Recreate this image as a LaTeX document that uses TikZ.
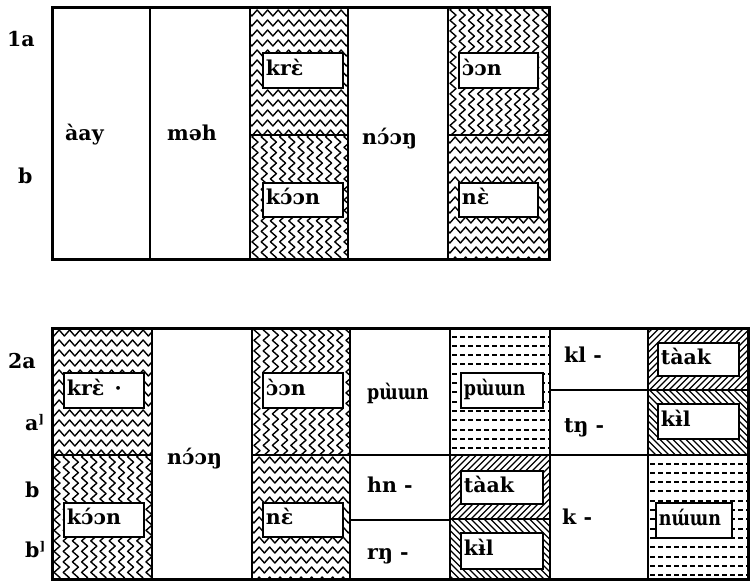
\documentclass[tikz,border=0pt]{standalone}
\usepackage{fontspec}
\setmainfont{DejaVu Serif}
\usetikzlibrary{decorations.pathmorphing}

\newcommand\wordfont{\fontsize{20.5}{24}\selectfont\bfseries}
\newcommand\tonemark{\raisebox{7pt}{\fontsize{12}{12}\selectfont ]}}
\newcommand\narrow[1]{{\addfontfeature{FakeStretch=0.85}#1}}

% fill a cell with rows of horizontal zigzags
\newcommand\hwaves[4]{%
  \begin{scope}
    \clip (#1,#2) rectangle (#3,#4);
    \foreach \k in {0,...,14}
      \draw[wave] ({#1-6},{#2+5+10*\k}) -- ({#3+6},{#2+5+10*\k});
  \end{scope}}
% fill a cell with columns of vertical zigzags
\newcommand\vzigs[4]{%
  \begin{scope}
    \clip (#1,#2) rectangle (#3,#4);
    \foreach \k in {0,...,13}
      \draw[wave] ({#1+5+9.2*\k},{#2-6}) -- ({#1+5+9.2*\k},{#4+6});
  \end{scope}}
% fill a cell with rows of short dashes
\newcommand\dashrows[4]{%
  \begin{scope}
    \clip (#1,#2) rectangle (#3,#4);
    \foreach \k in {0,...,14}
      \draw[dots] ({#1+2},{#2+8.5+9.3*\k}) -- ({#3},{#2+8.5+9.3*\k});
  \end{scope}}
% fill a cell with "/" hatching
\newcommand\hatchne[4]{%
  \begin{scope}
    \clip (#1,#2) rectangle (#3,#4);
    \foreach \k in {0,...,32}
      \draw[hatch] ({#1-70+6.5*\k},{#4}) -- ({#1-70+6.5*\k+#4-#2},{#2});
  \end{scope}}
% fill a cell with "\" hatching
\newcommand\hatchnw[4]{%
  \begin{scope}
    \clip (#1,#2) rectangle (#3,#4);
    \foreach \k in {0,...,32}
      \draw[hatch] ({#1-70+6.5*\k},{#2}) -- ({#1-70+6.5*\k+#4-#2},{#4});
  \end{scope}}

\tikzset{
  frame/.style={line width=3pt},
  heavy/.style={line width=2.4pt},
  light/.style={line width=1.4pt},
  wave/.style={line width=1.4pt, line join=round,
    decorate, decoration={zigzag, segment length=10.5pt, amplitude=3pt}},
  dots/.style={line width=2pt, dash pattern=on 4.5pt off 3.5pt},
  hatch/.style={line width=1.3pt},
  wbox/.style={draw, fill=white, line width=1.8pt, inner sep=3pt,
    align=left, anchor=north west, font=\wordfont,
    text height=14pt, text depth=4pt},
  word/.style={inner sep=0pt, anchor=base west, font=\wordfont},
}

\begin{document}
\begin{tikzpicture}[x=1pt, y=-1pt]
\useasboundingbox (0,0) rectangle (752,583);

% ---------- table 1 ----------
\hwaves{250}{8}{348}{135}
\vzigs{250}{135}{348}{259}
\vzigs{448}{8}{549}{135}
\hwaves{448}{135}{549}{259}

\draw[frame] (52,8) rectangle (549,259);
\draw[light] (150,8) -- (150,259);
\draw[heavy] (250,8) -- (250,259);
\draw[heavy] (348,8) -- (348,259);
\draw[heavy] (448,8) -- (448,259);
\draw[heavy] (250,135) -- (348,135);
\draw[heavy] (448,135) -- (549,135);

\node[word] (r1a) at (7,47) {1a};
\node[word] (r1b) at (18,183) {b};
\node[word] (w1) at (65,141) {àay};
\node[word] (w2) at (167,141) {məh};
\node[word] (w3) at (362,145) {nɔ́ɔŋ};
\node[wbox, text width=74pt, minimum height=35pt] (b11) at (262,52) {krɛ̀};
\node[wbox, text width=74pt, minimum height=34pt] (b12) at (262,182) {kɔ́ɔn};
\node[wbox, text width=73pt, minimum height=35pt] (b13) at (458,52) {ɔ̀ɔn};
\node[wbox, text width=73pt, minimum height=34pt] (b14) at (458,182) {nɛ̀};

% ---------- table 2 ----------
\hwaves{52}{328}{152}{455}
\vzigs{52}{455}{152}{579}
\vzigs{252}{328}{350}{455}
\hwaves{252}{455}{350}{579}
\dashrows{450}{328}{550}{455}
\hatchne{450}{455}{550}{519}
\hatchnw{450}{519}{550}{579}
\hatchne{648}{328}{748}{390}
\hatchnw{648}{390}{748}{455}
\dashrows{648}{455}{748}{579}

\draw[frame] (52,328) rectangle (748,579);
\draw[heavy] (152,328) -- (152,579);
\draw[heavy] (252,328) -- (252,579);
\draw[heavy] (350,328) -- (350,579);
\draw[heavy] (450,328) -- (450,579);
\draw[light] (550,328) -- (550,579);
\draw[heavy] (648,328) -- (648,579);
\draw[heavy] (52,455) -- (152,455);
\draw[heavy] (252,455) -- (748,455);
\draw[light] (350,520) -- (450,520);
\draw[heavy] (450,519) -- (550,519);
\draw[light] (550,390) -- (648,390);
\draw[heavy] (648,390) -- (748,390);

\node[word] (r2a) at (8,368) {2a};
\node[word] (r2a1) at (25,430) {a\tonemark};
\node[word] (r2b) at (25,497) {b};
\node[word] (r2b1) at (25,557) {b\tonemark};

\node[word] (v1) at (167,464) {nɔ́ɔŋ};
\node[word] (v2) at (367,399) {\narrow{pɯ̀ɯn}};
\node[word] (v3) at (367,492) {hn -};
\node[word] (v4) at (367,559) {rŋ -};
\node[word] (v5) at (564,362) {kl -};
\node[word] (v6) at (564,432) {tŋ -};
\node[word] (v7) at (562,524) {k -};

\node[wbox, text width=74pt, minimum height=35pt] (b21) at (63,372) {krɛ̀ \,·};
\node[wbox, text width=74pt, minimum height=34pt] (b22) at (63,502) {kɔ́ɔn};
\node[wbox, text width=74pt, minimum height=35pt] (b23) at (262,372) {ɔ̀ɔn};
\node[wbox, text width=74pt, minimum height=34pt] (b24) at (262,502) {nɛ̀};
\node[wbox, text width=76pt, minimum height=35pt] (b25) at (460,372) {\narrow{pɯ̀ɯn}};
\node[wbox, text width=76pt, minimum height=33pt] (b26) at (460,470) {tàak};
\node[wbox, text width=76pt, minimum height=36pt] (b27) at (460,532) {kɨ̀l};
\node[wbox, text width=75pt, minimum height=33pt] (b28) at (657,342) {tàak};
\node[wbox, text width=75pt, minimum height=35pt] (b29) at (657,403) {kɨ̀l};
\node[wbox, text width=70pt, minimum height=35pt] (b30) at (655,502) {\narrow{nɯ́ɯn}};
\end{tikzpicture}
\end{document}
